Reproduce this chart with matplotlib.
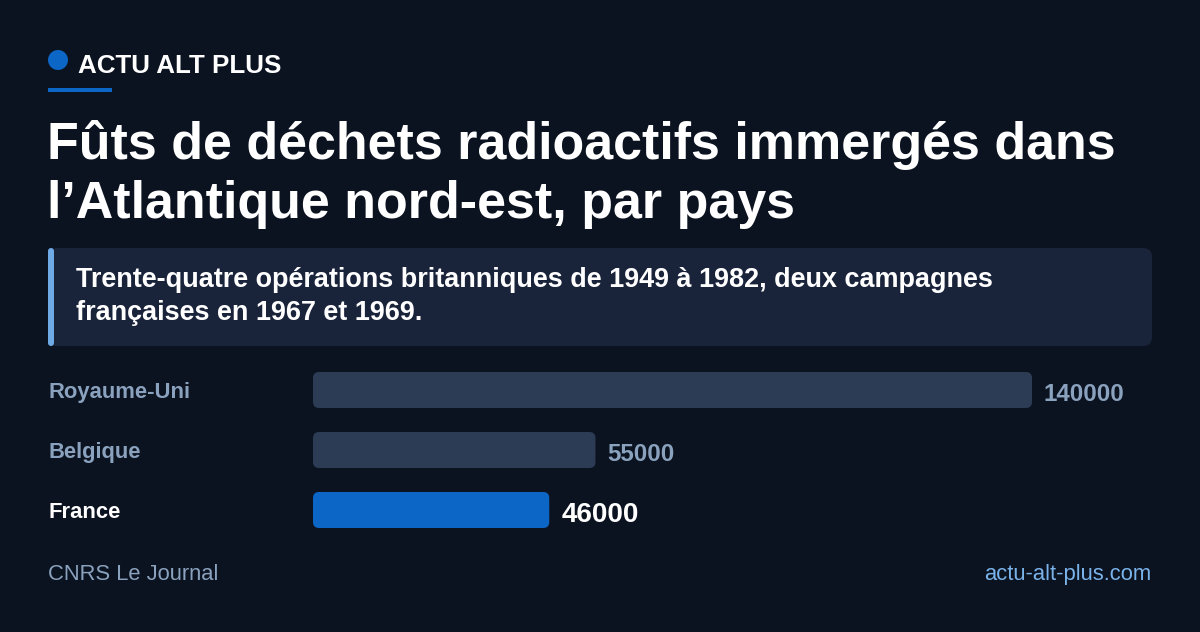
import matplotlib
matplotlib.use("Agg")
import matplotlib.pyplot as plt
from matplotlib.patches import FancyBboxPatch, Circle, Rectangle
import matplotlib.transforms as mtransforms

plt.rcParams['font.family'] = ['Liberation Sans', 'DejaVu Sans']

# ---- data ----
categories = ["Royaume-Uni", "Belgique", "France"]
values = [140000, 55000, 46000]
highlight = ["France"]
value_labels = ["140000", "55000", "46000"]

brand = "ACTU ALT PLUS"
title_lines = ["Fûts de déchets radioactifs immergés dans", "l’Atlantique nord-est, par pays"]
subtitle_lines = ["Trente-quatre opérations britanniques de 1949 à 1982, deux campagnes",
                  "françaises en 1967 et 1969."]
source = "CNRS Le Journal"
site = "actu-alt-plus.com"

# ---- style ----
BG = "#0b1220"
BOX = "#19233a"
BAR = "#2c3c55"
HI = "#0b66c6"
ACCENT = "#6fa9e6"
MUTED = "#8aa2bd"
WHITE = "#ffffff"
LINK = "#7ab3ea"

W, H = 1200, 632
fig = plt.figure(figsize=(W / 100, H / 100), dpi=100, facecolor=BG)

# overlay axes in pixel coordinates
ov = fig.add_axes([0, 0, 1, 1])
ov.set_xlim(0, W)
ov.set_ylim(H, 0)
ov.axis("off")
ov.set_facecolor(BG)

# brand
ov.add_patch(Circle((58, 60), 10, color=HI, lw=0))
ov.text(78, 73, brand, color=WHITE, fontsize=18.7, fontweight="bold", va="baseline", ha="left")
ov.add_patch(Rectangle((48, 88), 64, 4, color=HI, lw=0))

# title
for i, line in enumerate(title_lines):
    ov.text(47, 159 + i * 59, line, color=WHITE, fontsize=37.45, fontweight="bold",
            va="baseline", ha="left")

# subtitle box
ov.add_patch(FancyBboxPatch((48, 248), 1104, 98, boxstyle="round,pad=0,rounding_size=9",
                            fc=BOX, ec="none", lw=0))
ov.add_patch(FancyBboxPatch((48, 248), 6, 98, boxstyle="round,pad=0,rounding_size=3",
                            fc=ACCENT, ec="none", lw=0))
for i, line in enumerate(subtitle_lines):
    ov.text(76, 287 + i * 33, line, color=WHITE, fontsize=19.45, fontweight="bold",
            va="baseline", ha="left")

# footer
ov.text(48, 580, source, color=MUTED, fontsize=15.8, va="baseline", ha="left")
ov.text(1151, 580, site, color=LINK, fontsize=15.8, va="baseline", ha="right")

# ---- bar axes ----
x0_px, x1_px = 313, 1032
y0_px, y1_px = 360, 540
ax = fig.add_axes([x0_px / W, 1 - y1_px / H, (x1_px - x0_px) / W, (y1_px - y0_px) / H])
ax.set_xlim(0, max(values))
ax.set_ylim(len(categories) - 0.5, -0.5)
ax.axis("off")
ax.patch.set_alpha(0)

bar_h = 0.6
bars = ax.barh(range(len(categories)), values, height=bar_h, color="none")
xunit_per_px = max(values) / (x1_px - x0_px)
yunit_per_px = len(categories) / (y1_px - y0_px)
r_px = 6
for cat, rect in zip(categories, bars.patches):
    col = HI if cat in highlight else BAR
    fp = FancyBboxPatch((rect.get_x(), rect.get_y()), rect.get_width(), rect.get_height(),
                        boxstyle=f"round,pad=0,rounding_size={r_px * xunit_per_px}",
                        mutation_aspect=yunit_per_px / xunit_per_px,
                        fc=col, ec="none", lw=0)
    ax.add_patch(fp)
    rect.remove()

trans = mtransforms.blended_transform_factory(ov.transData, ax.transData)
for i, (cat, v, lab) in enumerate(zip(categories, values, value_labels)):
    hi = cat in highlight
    ax.text(48, i + 0.045, cat, transform=trans, color=WHITE if hi else MUTED,
            fontsize=15.85, fontweight="bold", va="center", ha="left")
    ax.annotate(lab, xy=(v, i), xytext=(12, -2), textcoords="offset pixels",
                color=WHITE if hi else MUTED, fontsize=20 if hi else 17.4,
                fontweight="bold", va="center_baseline", ha="left")

fig.savefig("out.png", dpi=100, facecolor=BG)
